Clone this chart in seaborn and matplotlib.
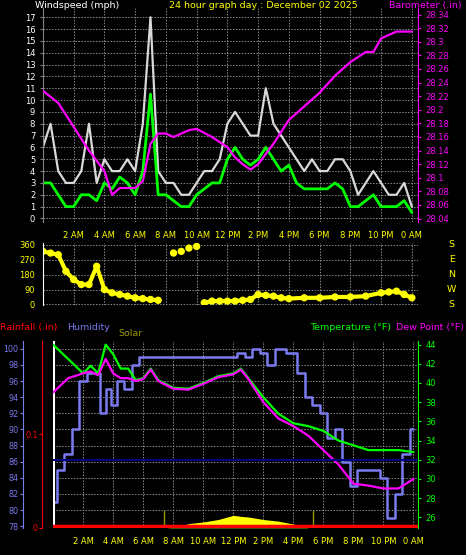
import numpy as np
import pandas as pd
import matplotlib
matplotlib.use("Agg")
import matplotlib.pyplot as plt
import seaborn as sns

# ---------------- data ----------------
wind_t = [0,0.5,1,1.5,2,2.5,3,3.5,4,4.5,5,5.5,6,6.5,7,7.5,8,8.5,9,9.5,10,10.5,11,11.5,12,12.5,13,13.5,14,14.5,15,15.5,16,16.5,17,17.5,18,18.5,19,19.5,20,20.5,21,21.5,22,22.5,23,23.5,24]
gust = [6,8,4,3,3,4,8,3,5,4,4,5,4,8,17,4,3,3,2,2,3,4,4,5,8,9,8,7,7,11,8,7,6,5,4,5,4,4,5,5,4,2,3,4,3,2,2,3,1]
avg_wind = [3,3,2,1,1,2,2,1.5,3,2.5,3.5,3,2,4,10.5,2,2,1.5,1,1,2,2.5,3,3,5,6,5,4.5,5,6,5,4,4.5,3,2.5,2.5,2.5,2.5,3,2.5,1,1,1.5,2,1,1,1,1.5,0.5]

baro_t = [0,1,2,3,4,4.5,5,6,6.5,7,7.5,8,8.5,9,9.5,10,11,12,12.5,13,13.5,14,15,16,17,18,19,20,21,21.5,22,23,24]
baro = [28.228,28.21,28.175,28.14,28.11,28.075,28.085,28.085,28.095,28.15,28.165,28.165,28.16,28.165,28.17,28.172,28.16,28.145,28.13,28.12,28.112,28.12,28.15,28.185,28.205,28.225,28.25,28.27,28.285,28.285,28.305,28.315,28.315]

dir_t = [0,0.5,1,1.5,2,2.5,3,3.5,4,4.5,5,5.5,6,6.5,7,7.5,8.5,9,9.5,10,10.5,11,11.5,12,12.5,13,13.5,14,14.5,15,15.5,16,17,18,19,20,21,22,22.5,23,23.5,24]
wdir = [320,310,300,200,150,120,120,230,90,70,60,50,40,35,30,25,310,320,340,350,10,20,20,20,20,25,30,60,55,50,40,35,40,40,45,45,50,70,75,80,60,40]

hum_t = [0,0.5,1,1.5,2,2.5,3,3.3,3.7,4,4.5,5,5.5,6,7,8,9,10,11,12,12.5,13,13.5,14,14.5,15,16,16.5,17,17.5,18,18.5,19,19.5,20,20.5,21,21.5,22,22.5,23,23.5,24]
humidity = [81,85,87,90,96,97,97,92,95,93,96,95,98,99,99,99,99,99,99,99,99.5,99,100,99.5,98,100,99.5,97,94,93,92,89,90,86,83,85,85,85,84,79,82,87,90]

temp_t = [0,1,2,2.5,3,3.5,4,4.5,5,5.5,6,6.5,7,8,9,10,11,12,12.5,13,14,15,16,17,18,19,20,21,22,23,24]
temperature = [44,42.5,41,41.8,41,44,43,41.5,41.5,40.3,40.5,41.5,40.3,39.5,39.4,40,40.7,41,41.5,40.5,38.5,36.8,35.8,35.5,35,34,33.5,33,33,33,32.8]
dew_point = [39,40.5,41,41.2,40.8,42.5,41,40.5,40.5,40.2,40.4,41.4,40.2,39.4,39.3,39.9,40.6,40.9,41.4,40.4,38,36.3,35.5,34.5,33,31.5,29.5,29.3,29,29,30]

solar_t = [7.5,8,8.5,9,10,11,12,12.5,13,14,15,16,16.5,17]
solar = [0,2,8,20,28,40,60,55,52,40,32,18,6,0]

hours = [2,4,6,8,10,12,14,16,18,20,22,24]
hour_labels = ["2 AM","4 AM","6 AM","8 AM","10 AM","12 PM","2 PM","4 PM","6 PM","8 PM","10 PM","0 AM"]

# ---------------- style ----------------
sns.set_style("dark", {"axes.facecolor": "black", "figure.facecolor": "black"})
plt.rcParams["font.family"] = ["DejaVu Sans"]
plt.rcParams["font.size"] = 6

fig = plt.figure(figsize=(4.66, 5.55), dpi=100)
fig.patch.set_facecolor("black")

GRID = dict(color="#888888", linestyle=(0, (1.5, 1.5)), linewidth=0.7)
TF = 6.8

def base(ax):
    ax.set_facecolor("black")
    ax.set_xlim(0, 24.4)
    ax.set_xticks(hours)
    ax.set_xticklabels(hour_labels, color="yellow", fontsize=6)
    ax.tick_params(axis="x", colors="gray", labelcolor="yellow", length=3)
    ax.grid(True, **GRID)
    for s in ax.spines.values():
        s.set_visible(False)
    ax.set_xlabel(""); ax.set_ylabel("")

# ---------- top panel ----------
ax1 = fig.add_axes([0.092, 0.6, 0.805, 0.386])
df_w = pd.DataFrame({"t": wind_t, "gust": gust, "avg": avg_wind})
sns.lineplot(data=df_w, x="t", y="gust", ax=ax1, color="#d8d8d8", linewidth=1.6)
sns.lineplot(data=df_w, x="t", y="avg", ax=ax1, color="#00ff00", linewidth=2.0)
base(ax1)
ax1.set_ylim(-0.3, 17.8)
ax1.set_yticks(range(0, 18))
ax1.tick_params(axis="y", colors="gray", labelcolor="white", length=2)
ax1.spines["left"].set_visible(True); ax1.spines["left"].set_color("gray")
ax1b = ax1.twinx()
sns.lineplot(x=baro_t, y=baro, ax=ax1b, color="#ff00ff", linewidth=1.6)
bt = np.round(np.arange(28.04, 28.341, 0.02), 2)
ax1b.set_ylim(28.035, 28.35)
ax1b.set_yticks(bt)
ax1b.set_yticklabels([f"{v:g}" for v in bt])
ax1b.tick_params(axis="y", colors="#ff00ff", labelcolor="#ff00ff", length=2)
for s in ax1b.spines.values(): s.set_visible(False)
ax1b.spines["right"].set_visible(True); ax1b.spines["right"].set_color("#ff00ff")
fig.text(0.075, 0.999, "Windspeed (mph)", color="white", fontsize=TF, va="top")
fig.text(0.565, 0.999, "24 hour graph day : December 02 2025", color="yellow", fontsize=TF, va="top", ha="center")
fig.text(0.99, 0.999, "Barometer (.in)", color="#ff00ff", fontsize=TF, va="top", ha="right")

# ---------- middle panel ----------
ax2 = fig.add_axes([0.092, 0.45, 0.805, 0.112])
sns.scatterplot(x=dir_t, y=wdir, ax=ax2, color="yellow", s=28, edgecolor="none")
sns.lineplot(x=dir_t[:16], y=wdir[:16], ax=ax2, color="yellow", linewidth=3)
sns.lineplot(x=dir_t[20:], y=wdir[20:], ax=ax2, color="yellow", linewidth=3)
base(ax2)
ax2.set_xticklabels([])
ax2.tick_params(axis="x", length=0)
ax2.set_ylim(-5, 370)
ax2.set_yticks([0, 90, 180, 270, 360])
ax2.tick_params(axis="y", colors="gray", labelcolor="yellow", length=2)
ax2.spines["left"].set_visible(True); ax2.spines["left"].set_color("white")
for lab, v in zip(["S", "E", "N", "W", "S"], [360, 270, 180, 90, 0]):
    ax2.text(1.09, (v + 5) / 375, lab, transform=ax2.transAxes, color="yellow", fontsize=TF, ha="center", va="center")

# ---------- bottom panel ----------
ax3 = fig.add_axes([0.114, 0.049, 0.783, 0.337])
df_h = pd.DataFrame({"t": hum_t, "h": humidity})
sns.lineplot(data=df_h, x="t", y="h", ax=ax3, color="#7b7bf0", linewidth=1.8, drawstyle="steps-mid")
base(ax3)
ax3.set_xlim(0, 24.3)
ax3.set_ylim(77.8, 101)
ax3.set_yticks(range(78, 101, 2))
ax3.tick_params(axis="y", colors="#7b7bf0", labelcolor="#7b7bf0", length=2, labelsize=5.8, pad=1)
ax3.spines["left"].set_visible(True); ax3.spines["left"].set_color("#7b7bf0")
ax3.spines["left"].set_position(("outward", 22))
ax3.axvline(0.05, color="white", linewidth=1.5)

ax_sol = ax3.twinx()
ax_sol.fill_between(solar_t, solar, color="yellow", linewidth=0)
ax_sol.plot([7.4, 7.4], [0, 80], color="#999900", linewidth=1)
ax_sol.plot([17.3, 17.3], [0, 80], color="#999900", linewidth=1)
ax_sol.set_ylim(0, 900)
ax_sol.set_yticks([])
for s in ax_sol.spines.values(): s.set_visible(False)

ax_rain = ax3.twinx()
ax_rain.axhline(0.002, color="red", linewidth=2.5)
ax_rain.set_ylim(0, 0.2)
ax_rain.set_yticks([0, 0.1])
ax_rain.set_yticklabels(["0", "0.1"])
ax_rain.yaxis.tick_left()
ax_rain.tick_params(axis="y", colors="red", labelcolor="red", length=2, labelsize=5.8, pad=1)
for s in ax_rain.spines.values(): s.set_visible(False)
ax_rain.spines["left"].set_visible(True); ax_rain.spines["left"].set_color("red")
ax_rain.spines["left"].set_position(("outward", 8))

ax_t = ax3.twinx()
sns.lineplot(x=temp_t, y=temperature, ax=ax_t, color="#00ff00", linewidth=1.6)
sns.lineplot(x=temp_t, y=dew_point, ax=ax_t, color="#ff00ff", linewidth=1.6)
ax_t.axhline(32, color="#000080", linewidth=1.5)
ax_t.set_ylim(24.9, 44.4)
ax_t.set_yticks(range(26, 45, 2))
ax_t.tick_params(axis="y", colors="#00ff00", labelcolor="#00ff00", length=2)
for s in ax_t.spines.values(): s.set_visible(False)
ax_t.spines["right"].set_visible(True); ax_t.spines["right"].set_color("#00ff00")
ax_t.set_xlabel(""); ax_t.set_ylabel("")
ax3.axhline(77.9, color="yellow", linewidth=1.5)

fig.text(0.0, 0.41, "Rainfall (.in)", color="red", fontsize=TF, va="center")
fig.text(0.143, 0.41, "Humidity", color="#7b7bf0", fontsize=TF, va="center")
fig.text(0.255, 0.40, "Solar", color="#999900", fontsize=TF, va="center")
fig.text(0.665, 0.41, "Temperature (°F)", color="#00ff00", fontsize=TF, va="center")
fig.text(0.995, 0.41, "Dew Point (°F)", color="#ff00ff", fontsize=TF, va="center", ha="right")

fig.savefig("out.png", dpi=100, facecolor="black")
